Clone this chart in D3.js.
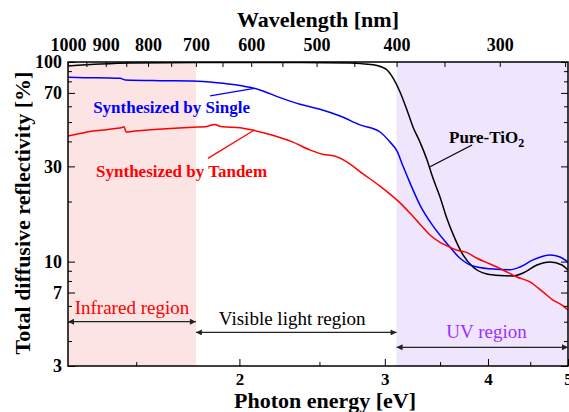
<!DOCTYPE html>
<html>
<head>
<meta charset="utf-8">
<script src="https://cdn.jsdelivr.net/npm/d3@7"></script>
<style>
  body { margin: 0; background: #fff; }
  svg text { font-family: "Liberation Serif", "Times New Roman", serif; }
</style>
</head>
<body>
<div id="app"></div>
<script>
// ---- data (photon energy in eV, reflectivity in %) ----
const singleE = [1.24, 1.30, 1.434, 1.454, 1.603, 1.757, 1.879, 1.987, 2.060, 2.118, 2.240, 2.368, 2.504, 2.648, 2.800, 2.960, 3.044, 3.104, 3.156, 3.218, 3.309, 3.431, 3.568, 3.700, 3.836, 4.023, 4.253, 4.374, 4.535, 4.755, 4.89, 5.00];
const singleR = [83.8, 83.5, 82.8, 81.3, 80.6, 80.3, 78.8, 76.7, 74.7, 72.4, 66.3, 61.4, 58.0, 53.6, 48.4, 44.6, 39.7, 35.8, 30.1, 24.8, 19.2, 15.1, 12.3, 10.4, 9.5, 9.2, 9.1, 9.4, 10.2, 10.8, 10.55, 9.95];

const tandemE = [1.24, 1.282, 1.318, 1.367, 1.414, 1.442, 1.450, 1.458, 1.495, 1.546, 1.648, 1.757, 1.817, 1.853, 1.868, 1.889, 1.910, 2.003, 2.074, 2.189, 2.314, 2.437, 2.521, 2.607, 2.695, 2.823, 2.960, 3.044, 3.130, 3.218, 3.309, 3.403, 3.499, 3.568, 3.669, 3.773, 3.879, 4.023, 4.171, 4.336, 4.496, 4.662, 4.794, 4.917, 5.00];
const tandemR = [42.6, 43.8, 44.8, 45.6, 46.4, 47.0, 47.4, 44.6, 45.1, 45.6, 46.4, 47.1, 47.4, 48.4, 48.7, 47.8, 47.4, 46.9, 45.6, 43.1, 39.9, 36.2, 34.5, 33.8, 31.7, 27.5, 23.9, 21.8, 19.7, 17.5, 15.4, 13.6, 12.5, 12.0, 11.4, 11.1, 10.4, 9.73, 9.08, 8.38, 7.91, 7.05, 6.42, 6.06, 5.72];

const pureE = [1.24, 1.356, 1.474, 1.792, 2.368, 2.722, 2.838, 2.936, 3.019, 3.069, 3.130, 3.191, 3.245, 3.309, 3.375, 3.431, 3.499, 3.568, 3.649, 3.731, 3.836, 3.989, 4.136, 4.289, 4.410, 4.585, 4.755, 4.917, 5.00];
const pureR = [95.5, 97.7, 98.9, 99.3, 99.3, 98.9, 97.7, 96.0, 91.2, 83.2, 70.8, 57.5, 47.3, 39.7, 32.3, 26.2, 21.1, 16.4, 13.0, 10.8, 9.4, 8.67, 8.52, 8.48, 8.77, 9.62, 9.96, 9.62, 9.08];

// axis ticks
const energyMajor = [2, 3, 4, 5];
const energyMinor = [1.5, 2.5, 3.5, 4.5];
const waveMajor = [1000, 900, 800, 700, 600, 500, 400, 300];
const waveMinor = [950, 850, 750, 650, 550, 450, 350, 250];
const reflMajor = [3, 7, 10, 30, 70, 100];
const reflMinor = [4, 5, 6, 8, 9, 20, 40, 50, 60, 80, 90];

// regions (nm)
const regionNames = ["Infrared region", "Visible light region", "UV region"];
const regionNm = [[1000, 700], [700, 400], [400, 248]];

const hc = 1240; // eV*nm

// ---- layout ----
const W = 569, H = 412;
const margin = {top: 62, right: 1, bottom: 46, left: 68};
const width = W - margin.left - margin.right;
const height = H - margin.top - margin.bottom;

const svg = d3.select("#app").append("svg")
  .attr("width", W).attr("height", H);

const defs = svg.append("defs");
defs.append("clipPath").attr("id", "plotclip")
  .append("rect").attr("width", width).attr("height", height);
defs.append("marker")
  .attr("id", "arrow")
  .attr("viewBox", "0 0 10 10")
  .attr("refX", 10).attr("refY", 5)
  .attr("markerUnits", "userSpaceOnUse")
  .attr("markerWidth", 9).attr("markerHeight", 6)
  .attr("orient", "auto-start-reverse")
  .append("path").attr("d", "M0,0L10,5L0,10z").attr("fill", "#222");

const g = svg.append("g")
  .attr("transform", "translate(" + margin.left + "," + margin.top + ")");

// scales
const x = d3.scaleLog().domain([hc / 1000, 5]).range([0, width]);
const xw = d3.scaleLog().domain([1000, hc / 5]).range([0, width]);
const y = d3.scaleLog().domain([3, 100]).range([height, 0]);

// shaded regions
g.append("rect")
  .attr("x", x(hc / regionNm[0][0])).attr("y", 0)
  .attr("width", x(hc / regionNm[0][1]) - x(hc / regionNm[0][0]))
  .attr("height", height)
  .attr("fill", "#fde4e4");
g.append("rect")
  .attr("x", x(hc / regionNm[2][0])).attr("y", 0)
  .attr("width", width - x(hc / regionNm[2][0]))
  .attr("height", height)
  .attr("fill", "#efe5fc");

// curves
const line = d3.line()
  .x(d => x(d[0]))
  .y(d => y(d[1]))
  .curve(d3.curveMonotoneX);

const series = [
  {e: pureE, r: pureR, color: "#000"},
  {e: singleE, r: singleR, color: "#0000ff"},
  {e: tandemE, r: tandemR, color: "#ff0000"}
];
const curves = g.append("g").attr("clip-path", "url(#plotclip)");
series.forEach(s => {
  curves.append("path")
    .datum(d3.zip(s.e, s.r))
    .attr("d", line)
    .attr("fill", "none")
    .attr("stroke", s.color)
    .attr("stroke-width", 1.5);
});

// axes (ticks point inward)
function styleAxis(sel, fs) {
  sel.select(".domain").remove();
  sel.selectAll("line").attr("stroke", "#000").attr("stroke-width", 1);
  sel.selectAll("text")
    .attr("fill", "#000")
    .style("font-size", fs + "px")
    .style("font-weight", "bold")
    .style("font-family", '"Liberation Serif", "Times New Roman", serif');
}

g.append("g").attr("transform", "translate(0," + height + ")")
  .call(d3.axisBottom(x).tickValues(energyMajor).tickFormat(d3.format("d")).tickSize(-7).tickPadding(7))
  .call(styleAxis, 17);
g.append("g").attr("transform", "translate(0," + height + ")")
  .call(d3.axisBottom(x).tickValues(energyMinor).tickFormat("").tickSize(-4))
  .call(styleAxis, 17);

g.append("g")
  .call(d3.axisTop(xw).tickValues(waveMajor).tickFormat(d3.format("d")).tickSize(-5).tickPadding(11))
  .call(styleAxis, 18);
g.append("g")
  .call(d3.axisTop(xw).tickValues(waveMinor).tickFormat("").tickSize(-5))
  .call(styleAxis, 18);

g.append("g")
  .call(d3.axisLeft(y).tickValues(reflMajor).tickFormat(d3.format("d")).tickSize(-7).tickPadding(6))
  .call(styleAxis, 18);
g.append("g")
  .call(d3.axisLeft(y).tickValues(reflMinor).tickFormat("").tickSize(-4))
  .call(styleAxis, 18);
g.append("g").attr("transform", "translate(" + width + ",0)")
  .call(d3.axisRight(y).tickValues(reflMajor).tickFormat("").tickSize(-7))
  .call(styleAxis, 18);
g.append("g").attr("transform", "translate(" + width + ",0)")
  .call(d3.axisRight(y).tickValues(reflMinor).tickFormat("").tickSize(-4))
  .call(styleAxis, 18);

// frame
g.append("rect")
  .attr("width", width).attr("height", height)
  .attr("fill", "none").attr("stroke", "#000").attr("stroke-width", 1.5);

// axis titles
svg.append("text")
  .attr("x", margin.left + width / 2).attr("y", 27)
  .attr("text-anchor", "middle")
  .style("font-size", "22px").style("font-weight", "bold")
  .text("Wavelength [nm]");
svg.append("text")
  .attr("x", 325).attr("y", 408)
  .attr("text-anchor", "middle")
  .style("font-size", "22px").style("font-weight", "bold")
  .text("Photon energy [eV]");
svg.append("text")
  .attr("transform", "translate(30,213) rotate(-90)")
  .attr("text-anchor", "middle")
  .style("font-size", "22px").style("font-weight", "bold")
  .text("Total diffusive reflectivity [%]");

// region arrows + labels
const arrowR = [5.0, 4.42, 3.72];
const regionLabelE = [Math.sqrt((hc / 1000) * (hc / 700)), 2.317, 3.984];
const regionLabelR = [5.47, 4.82, 4.14];
const regionColor = ["#ff0000", "#000", "#9b30ff"];
regionNm.forEach((r, i) => {
  g.append("line")
    .attr("x1", x(hc / r[0])).attr("x2", x(hc / r[1]))
    .attr("y1", y(arrowR[i])).attr("y2", y(arrowR[i]))
    .attr("stroke", "#222").attr("stroke-width", 1.2)
    .attr("marker-start", "url(#arrow)").attr("marker-end", "url(#arrow)");
  g.append("text")
    .attr("x", x(regionLabelE[i])).attr("y", y(regionLabelR[i]))
    .attr("text-anchor", "middle")
    .attr("fill", regionColor[i])
    .style("font-size", "19px")
    .text(regionNames[i]);
});

// curve labels with leader lines
const labels = [
  {text: "Synthesized by Single", color: "#0000ff", e: 1.330, r: 55.7, line: [[1.843, 67.6], [2.085, 73.8]]},
  {text: "Synthesized by Tandem", color: "#ff0000", e: 1.341, r: 26.6, line: [[1.832, 32.9], [2.085, 45.6]]},
  {text: "Pure-TiO", sub: "2", color: "#000", e: 3.588, r: 39.2, line: [[3.403, 29.9], [3.826, 38.4]]}
];
labels.forEach(l => {
  g.append("line")
    .attr("x1", x(l.line[0][0])).attr("y1", y(l.line[0][1]))
    .attr("x2", x(l.line[1][0])).attr("y2", y(l.line[1][1]))
    .attr("stroke", l.color).attr("stroke-width", 1.2);
  const t = g.append("text")
    .attr("x", x(l.e)).attr("y", y(l.r))
    .attr("fill", l.color)
    .style("font-size", "17px").style("font-weight", "bold")
    .text(l.text);
  if (l.sub) {
    t.append("tspan").attr("dy", 4).style("font-size", "12px").text(l.sub);
  }
});
</script>
</body>
</html>
